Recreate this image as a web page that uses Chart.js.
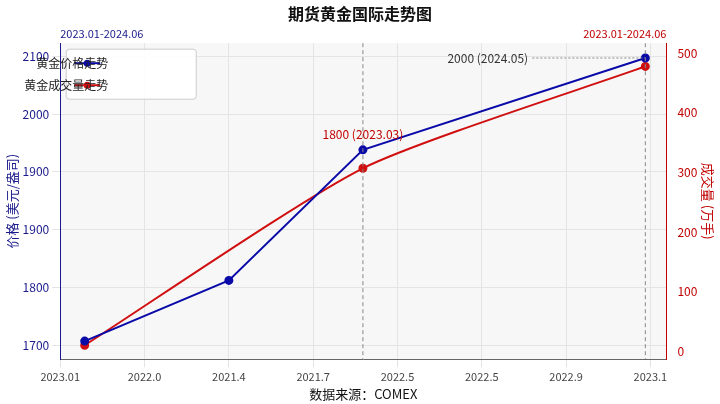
<!DOCTYPE html><html><head><meta charset="utf-8"><script src="https://cdn.jsdelivr.net/npm/chart.js@4"></script>
<style>body{margin:0;background:#fff}#w{width:720px;height:404px}</style></head><body><div id="w"><canvas id="c"></canvas></div><script>
const xTickLabels=["2023.01","2022.0","2021.4","2021.7","2022.5","2022.5","2022.9","2023.1"];
const yTickLabels=["1700","1800","1900","1900","2000","2100"];
const priceX=[0.29,2.0,3.59,6.94];
const priceY=[1707,1812,2038,2197];
const volX=[0.29,3.59,6.94];
const volY=[10,307,478];
const F='"Noto Sans CJK SC","Noto Sans",sans-serif';
const deco={id:'deco',beforeDraw(c){const a=c.chartArea,x=c.ctx;x.save();x.fillStyle='#f7f7f7';x.fillRect(a.left,a.top,a.width,a.height);x.restore();},
afterDatasetsDraw(c){const x=c.ctx,sx=c.scales.x,yl=c.scales.y,a=c.chartArea;x.save();
x.strokeStyle='#888';x.lineWidth=1;x.setLineDash([4,3]);
[priceX[2],priceX[3]].forEach(v=>{const p=sx.getPixelForValue(v);x.beginPath();x.moveTo(p,a.top);x.lineTo(p,a.bottom);x.stroke();});
x.setLineDash([2,2]);const py=yl.getPixelForValue(priceY[3]);x.beginPath();x.moveTo(sx.getPixelForValue(5.6),py);x.lineTo(sx.getPixelForValue(priceX[3]),py);x.stroke();
x.setLineDash([]);x.font='12px '+F;x.fillStyle='#333';x.textAlign='right';x.textBaseline='middle';x.fillText('2000 (2024.05)',sx.getPixelForValue(5.55),py);
x.fillStyle='#c00000';x.textAlign='center';x.fillText('1800 (2023.03)',sx.getPixelForValue(priceX[2]),yl.getPixelForValue(2038)-15);
x.font='11px '+F;x.fillStyle='#1a1a8c';x.textAlign='left';x.fillText('2023.01-2024.06',a.left,a.top-9);
x.fillStyle='#c00000';x.textAlign='right';x.fillText('2023.01-2024.06',a.right,a.top-9);
const L=a.left+6,T=a.top+6;
x.fillStyle='rgba(255,255,255,0.9)';x.strokeStyle='#ccc';x.lineWidth=1;x.beginPath();x.roundRect(L,T,130,50,3);x.fill();x.stroke();
c.data.datasets.forEach((d,i)=>{const y=T+14+i*22;x.strokeStyle=d.borderColor;x.lineWidth=2;x.beginPath();x.moveTo(L+8,y);x.lineTo(L+34,y);x.stroke();
x.fillStyle=d.borderColor;x.beginPath();x.arc(L+21,y,3.5,0,7);x.fill();x.fillStyle='#222';x.font='12px '+F;x.textBaseline='middle';x.fillText(d.label,L+42,y);});
x.restore();}};
new Chart(document.getElementById('c'),{type:'line',data:{datasets:[
{label:'黄金价格走势',data:priceX.map((v,i)=>({x:v,y:priceY[i]})),borderColor:'#0a0aa8',backgroundColor:'#0a0aa8',pointRadius:3.5,borderWidth:2,yAxisID:'y'},
{label:'黄金成交量走势',data:volX.map((v,i)=>({x:v,y:volY[i]})),borderColor:'#d01010',backgroundColor:'#d01010',pointRadius:3.5,borderWidth:2,tension:0.2,yAxisID:'y1'}]},
plugins:[deco],options:{responsive:true,maintainAspectRatio:false,animation:false,
layout:{padding:{top:0,left:4,right:4,bottom:2}},
plugins:{title:{display:true,text:'期货黄金国际走势图',font:{size:16,family:F},color:'#111',padding:{top:4,bottom:20}},
legend:{display:false},tooltip:{enabled:false}},
scales:{x:{type:'linear',min:0,max:7.19,afterBuildTicks:s=>{s.ticks=[0,1,2,3,4,5,6,7].map(v=>({value:v}));},ticks:{callback:v=>xTickLabels[v]??'',color:'#444',font:{size:11,family:F}},grid:{color:'#e4e4e4'},border:{color:'#666'},
title:{display:true,text:'数据来源：COMEX',font:{size:13,family:F},color:'#111',padding:0}},
y:{min:1675.6,max:2222.6,afterBuildTicks:s=>{s.ticks=[1700,1800,1900,2000,2100,2200].map(v=>({value:v}));},ticks:{callback:(v)=>yTickLabels[(v-1700)/100],color:'#1a1a8c',font:{size:12,family:F}},grid:{color:'#e4e4e4'},border:{color:'#1a1a8c'},
title:{display:true,text:'价格 (美元/盎司)',color:'#1a1a8c',font:{size:13,family:F},padding:0}},
y1:{position:'right',min:-13.5,max:517,afterBuildTicks:s=>{s.ticks=[0,100,200,300,400,500].map(v=>({value:v}));},ticks:{color:'#c00000',font:{size:12,family:F}},grid:{display:false},border:{color:'#c00000'},
title:{display:true,text:'成交量 (万手)',color:'#c00000',font:{size:13,family:F},padding:0}}}}});
</script></body></html>
